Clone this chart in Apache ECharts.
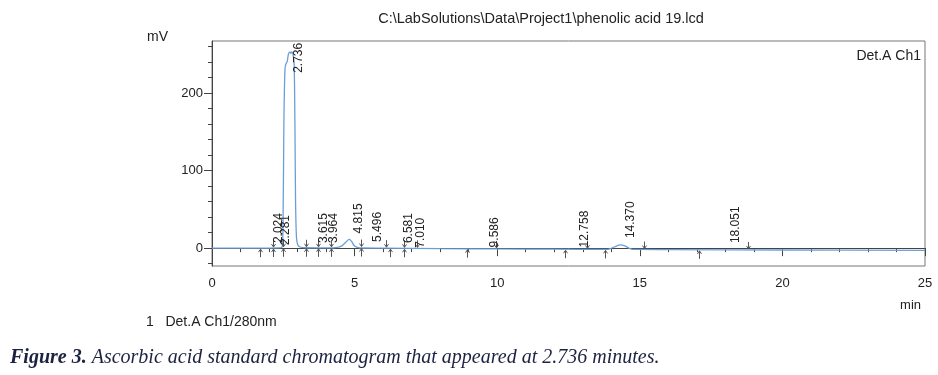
<!DOCTYPE html>
<html>
<head>
<meta charset="utf-8">
<script src="https://cdn.jsdelivr.net/npm/echarts@6/dist/echarts.min.js"></script>
<style>
  html, body { margin: 0; padding: 0; background: #fff; }
  #chart { width: 938px; height: 375px; }
</style>
</head>
<body>
<div id="chart"></div>
<script>
// chromatogram trace [min, mV]
const trace = [
  [0, 0], [1, 0], [2, 0.1], [2.3, 0.3], [2.45, 0.8], [2.49, 30], [2.52, 160],
  [2.56, 232], [2.6, 238], [2.64, 241], [2.68, 250], [2.73, 253], [2.77, 251],
  [2.8, 253], [2.84, 250], [2.88, 238], [2.91, 150], [2.93, 60], [2.96, 15],
  [3.0, 5], [3.08, 1.5], [3.3, 0.5], [4.0, 0.3], [4.4, 1], [4.55, 3],
  [4.7, 8], [4.81, 11.2], [4.9, 8.5], [4.98, 3.5], [5.1, 1], [5.3, 0.2],
  [6, 0], [8, -0.6], [10, -1], [12, -1.3], [13.8, -1.6], [13.95, -0.8],
  [14.1, 1.5], [14.32, 4.2], [14.5, 2.5], [14.65, -0.5], [14.85, -1.7],
  [16, -1.9], [20, -2.4], [25, -2.9]
];

// peak labels: retention time, label start height (mV)
const peakTimes = [2.024, 2.281, 2.736, 3.615, 3.964, 4.815, 5.496, 6.581, 7.010, 9.586, 12.758, 14.370, 18.051];
const peakLabelY = [6.5, 4, 226, 6.5, 6.5, 19, 8, 6.5, 0.5, 1, 1, 13, 6.5];

// integration marks: time, baseline height (mV) and kind
const markTimes = [1.69, 2.14, 2.5, 3.3, 3.7, 4.19, 5.24, 6.1, 6.23, 6.73, 7.2, 8.94, 9.95, 12.37, 13.16, 13.79, 15.13, 17.08, 18.79];
const markY = [0, 0.1, 0.5, 0.5, 0.4, 0.4, 0.8, 0, 0, -0.2, -0.3, -0.7, -1, -1.4, -1.5, -1.6, -1.8, -2.2, -2.3];
const markKinds = ['up', 'both', 'both', 'both', 'both', 'both', 'both', 'down', 'up', 'both', 'down', 'up', 'down', 'up', 'down', 'up', 'down', 'up', 'down'];

const yMajor = [0, 100, 200];
const yMinor = [-20, 20, 40, 60, 80, 120, 140, 160, 180, 220, 240, 260];

const chart = echarts.init(document.getElementById('chart'));

const font = 'Liberation Sans, Arial, sans-serif';
const serif = 'Liberation Serif, Times New Roman, serif';

const option = {
  animation: false,
  title: [
    { text: 'C:\\LabSolutions\\Data\\Project1\\phenolic acid 19.lcd', left: 536, top: 6, textAlign: 'center',
      textStyle: { fontFamily: font, fontSize: 14.5, fontWeight: 'normal', color: '#222' } },
    { text: 'mV', left: 142, top: 25, textStyle: { fontFamily: font, fontSize: 14, fontWeight: 'normal', color: '#222' } },
    { text: 'Det.A Ch1', right: 12, top: 44, textStyle: { fontFamily: font, fontSize: 14, fontWeight: 'normal', color: '#222' } },
    { text: 'min', right: 12, top: 294, textStyle: { fontFamily: font, fontSize: 13, fontWeight: 'normal', color: '#222' } },
    { text: '1   Det.A Ch1/280nm', left: 141, top: 310, textStyle: { fontFamily: font, fontSize: 14, fontWeight: 'normal', color: '#222' } },
    { text: '{b|Figure 3.} {i|Ascorbic acid standard chromatogram that appeared at 2.736 minutes.}', left: 5, top: 343,
      textStyle: { fontWeight: 'normal', rich: {
        b: { fontFamily: serif, fontSize: 20, fontWeight: 'bold', fontStyle: 'italic', color: '#1c2240' },
        i: { fontFamily: serif, fontSize: 20, fontWeight: 'normal', fontStyle: 'italic', color: '#1c2240' }
      } } }
  ],
  grid: { left: 212, right: 13, top: 41, bottom: 109, show: true, borderColor: '#777', borderWidth: 1 },
  xAxis: {
    type: 'value', min: 0, max: 25, interval: 5,
    axisLine: { lineStyle: { color: '#444' } },
    axisTick: { length: 8, lineStyle: { color: '#444' } },
    minorTick: { show: true, splitNumber: 5, length: 4, lineStyle: { color: '#444' } },
    splitLine: { show: false },
    axisLabel: { fontFamily: font, fontSize: 13, color: '#222', margin: 11 }
  },
  yAxis: [
    {
      type: 'value', min: -23, max: 267,
      axisLine: { show: true, lineStyle: { color: '#444' } },
      axisTick: { show: true, length: 8, customValues: yMajor, lineStyle: { color: '#444' } },
      axisLabel: { customValues: yMajor, fontFamily: font, fontSize: 13, color: '#222', margin: 9 },
      splitLine: { show: false }
    },
    {
      type: 'value', min: -23, max: 267, position: 'left',
      axisLine: { show: false },
      axisTick: { show: true, length: 4, customValues: yMinor, lineStyle: { color: '#444' } },
      axisLabel: { show: false },
      splitLine: { show: false }
    }
  ],
  series: [
    {
      type: 'line', data: trace, showSymbol: false, smooth: 0.3,
      lineStyle: { color: '#6a9fd6', width: 1.3 }, z: 3
    },
    {
      type: 'custom', z: 4,
      data: markTimes.map((t, i) => [t, markY[i]]),
      renderItem: (params, api) => {
        const p = api.coord([api.value(0), api.value(1)]);
        const kind = markKinds[params.dataIndex];
        const x = Math.round(p[0]) + 0.5, y = p[1];
        const st = { stroke: '#555', lineWidth: 1, fill: null };
        const kids = [];
        if (kind === 'up' || kind === 'both') {
          kids.push({ type: 'polyline', shape: { points: [[x, y + 9], [x, y + 1]] }, style: st });
          kids.push({ type: 'polyline', shape: { points: [[x - 2, y + 4], [x, y + 1], [x + 2, y + 4]] }, style: st });
        }
        if (kind === 'down' || kind === 'both') {
          kids.push({ type: 'polyline', shape: { points: [[x, y - 8], [x, y - 1]] }, style: st });
          kids.push({ type: 'polyline', shape: { points: [[x - 2, y - 4], [x, y - 1], [x + 2, y - 4]] }, style: st });
        }
        return { type: 'group', children: kids };
      }
    },
    {
      type: 'custom', z: 5,
      data: peakTimes.map((t, i) => [t, peakLabelY[i]]),
      renderItem: (params, api) => {
        const p = api.coord([api.value(0), api.value(1)]);
        return {
          type: 'text', x: p[0] + 9, y: p[1], rotation: Math.PI / 2,
          style: {
            text: peakTimes[params.dataIndex].toFixed(3),
            fontFamily: font, fontSize: 12, fill: '#222',
            align: 'left', verticalAlign: 'middle'
          }
        };
      }
    }
  ]
};

chart.setOption(option);
</script>
</body>
</html>
